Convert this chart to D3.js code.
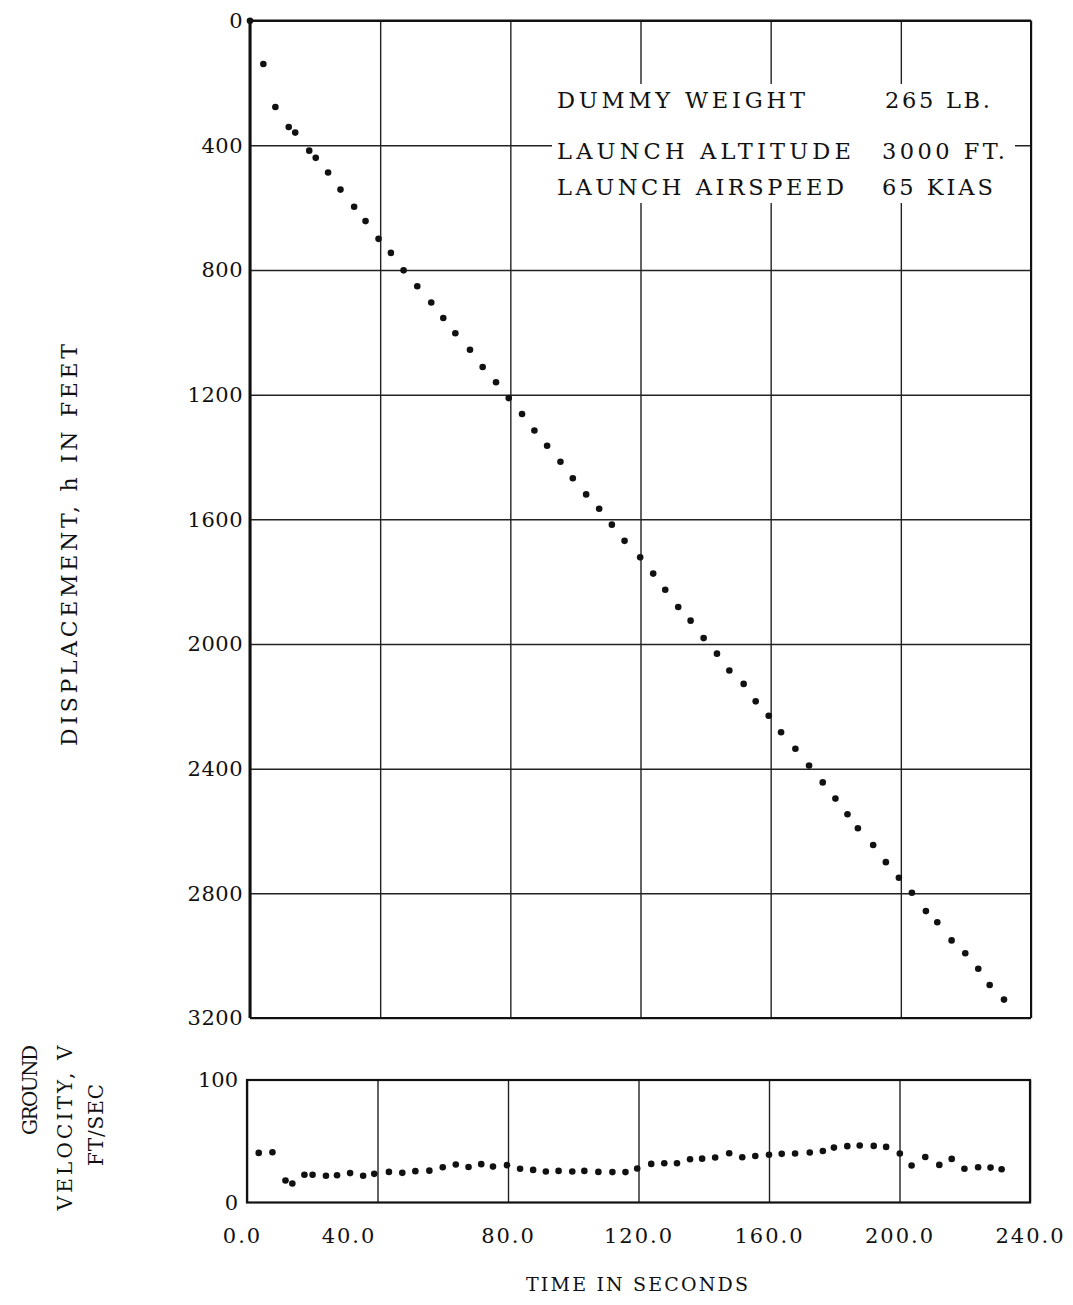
<!DOCTYPE html>
<html>
<head>
<meta charset="utf-8">
<script src="https://cdn.jsdelivr.net/npm/d3@7"></script>
<style>
  html, body { margin: 0; padding: 0; background: #fff; }
  svg { display: block; }
  text { font-family: "DejaVu Serif", "Liberation Serif", serif; fill: #111; }
</style>
</head>
<body>
<script>
// ---- data ----
const timeH = [0, 4.1, 7.8, 11.9, 13.9, 18.2, 20.2, 24.0, 27.8, 32.0, 35.5, 39.5, 43.3, 47.2, 51.4,
  55.7, 59.4, 63.1, 67.6, 71.5, 75.6, 79.5, 83.6, 87.4, 91.3, 95.4, 99.2, 103.3, 107.3, 111.2,
  115.1, 119.9, 123.9, 127.6, 131.6, 135.4, 139.4, 143.5, 147.3, 151.7, 155.4, 159.4, 163.2, 167.6,
  171.8, 176.0, 179.9, 183.6, 186.8, 191.5, 195.4, 199.4, 203.4, 207.7, 211.2, 215.6, 219.8, 223.8,
  227.3, 231.7];
const hValues = [0, 139, 277, 341, 359, 417, 440, 487, 542, 597, 643, 700, 745, 801, 852,
  904, 954, 1003, 1056, 1111, 1160, 1211, 1262, 1315, 1364, 1415, 1468, 1520, 1566, 1617,
  1669, 1722, 1774, 1826, 1881, 1925, 1981, 2031, 2085, 2128, 2184, 2230, 2283, 2336,
  2390, 2444, 2496, 2546, 2591, 2645, 2700, 2750, 2798, 2857, 2893, 2951, 2992, 3042,
  3094, 3141];
const timeV = [3.6, 7.8, 11.8, 13.9, 17.6, 20.1, 24.2, 27.6, 31.6, 35.6, 39.0, 43.5, 47.6, 51.6,
  55.9, 60.0, 64.0, 67.9, 71.8, 75.4, 79.7, 83.7, 87.7, 91.6, 95.5, 99.7, 103.4, 107.7, 112.0,
  116.0, 119.6, 123.9, 127.9, 131.8, 135.8, 139.5, 143.5, 147.8, 151.8, 155.8, 160.0, 163.9,
  168.0, 172.5, 176.5, 179.9, 184.0, 187.8, 192.1, 195.9, 200.1, 203.7, 207.9, 212.2, 216.0,
  219.9, 224.1, 227.9, 231.3];
const vValues = [40.5, 41, 18, 15.5, 22.6, 22.6, 21.8, 22.3, 24, 21.8, 23.4, 25, 24.2, 25.6,
  26, 28.8, 31, 29, 31.3, 29.3, 30.5, 27.5, 26.6, 25.3, 25.8, 25.3, 25.8, 25, 24.8,
  24.8, 27.7, 31.5, 32, 32, 35.3, 35.8, 36.7, 40.2, 37, 38, 39, 39.7,
  40, 40.8, 42.1, 44.8, 46, 46.5, 46.2, 45.4, 40, 30.2, 37.2, 30.7, 35.6,
  27.5, 28.8, 28.5, 27.2];
const timeTicks = [0, 40, 80, 120, 160, 200, 240];
const hTicks = [0, 400, 800, 1200, 1600, 2000, 2400, 2800, 3200];
const vTicks = [0, 100];
const noteLabels = ["DUMMY WEIGHT", "LAUNCH ALTITUDE", "LAUNCH AIRSPEED"];
const noteValues = ["265 LB.", "3000 FT.", "65 KIAS"];

// ---- layout ----
const W = 1073, H = 1305;
const svg = d3.select("body").append("svg").attr("width", W).attr("height", H);

const x = d3.scaleLinear().domain([0, 240]).range([250, 1031]);
const y = d3.scaleLinear().domain([0, 3200]).range([20.7, 1018]);
const xb = d3.scaleLinear().domain([0, 240]).range([247, 1030]);
const yb = d3.scaleLinear().domain([0, 100]).range([1202.5, 1080]);

const gridColor = "#222";
const FONT = "DejaVu Serif";

// ---- top panel grid ----
const topG = svg.append("g");
topG.append("g")
  .attr("transform", `translate(0,${y(0)})`)
  .call(d3.axisTop(x).tickValues(timeTicks).tickSize(-(y(3200) - y(0))).tickFormat(""))
  .call(g => g.select(".domain").remove())
  .call(g => g.selectAll("line").attr("stroke", gridColor).attr("stroke-width", 1.4));
topG.append("g")
  .attr("transform", `translate(${x(0)},0)`)
  .call(d3.axisLeft(y).tickValues(hTicks).tickSize(-(x(240) - x(0))).tickPadding(7).tickFormat(d3.format("d")))
  .call(g => g.select(".domain").remove())
  .call(g => g.selectAll("line").attr("stroke", gridColor).attr("stroke-width", 1.5))
  .call(g => g.selectAll("text").attr("font-size", 21).attr("font-family", FONT).attr("fill", "#111")
    .attr("letter-spacing", 0.5));
// frame
topG.append("line").attr("x1", x(0)).attr("x2", x(0)).attr("y1", y(0) - 1).attr("y2", y(3200))
  .attr("stroke", "#111").attr("stroke-width", 3);
topG.append("line").attr("x1", x(0)).attr("x2", x(240)).attr("y1", y(0)).attr("y2", y(0))
  .attr("stroke", "#111").attr("stroke-width", 2.2);
topG.append("line").attr("x1", x(0)).attr("x2", x(240)).attr("y1", y(3200)).attr("y2", y(3200))
  .attr("stroke", "#111").attr("stroke-width", 2);
topG.append("line").attr("x1", x(240)).attr("x2", x(240)).attr("y1", y(0)).attr("y2", y(3200))
  .attr("stroke", "#111").attr("stroke-width", 2);

// annotation box (white background hides grid)
const note = topG.append("g");
note.append("rect").attr("x", 552).attr("y", 84).attr("width", 463).attr("height", 119).attr("fill", "#fff");
const noteBase = [108, 159, 195];
const labelLens = [248, 294, 287];
const valueLens = [105, 123, 111];
noteLabels.forEach((t, i) => {
  note.append("text").attr("x", 557).attr("y", noteBase[i]).attr("font-size", 22.5)
    .attr("textLength", labelLens[i]).attr("lengthAdjust", "spacing").text(t);
  note.append("text").attr("x", i === 0 ? 885 : 882).attr("y", noteBase[i]).attr("font-size", 22.5)
    .attr("textLength", valueLens[i]).attr("lengthAdjust", "spacing").text(noteValues[i]);
});

// points
topG.append("g").selectAll("circle").data(timeH).join("circle")
  .attr("cx", (d) => x(d)).attr("cy", (d, i) => y(hValues[i])).attr("r", 3.3).attr("fill", "#111");

// y label
svg.append("text").attr("transform", `translate(77,545) rotate(-90)`)
  .attr("text-anchor", "middle").attr("font-size", 22)
  .attr("textLength", 402).attr("lengthAdjust", "spacing")
  .text("DISPLACEMENT, h IN FEET");

// ---- bottom panel ----
const botG = svg.append("g");
botG.append("g")
  .attr("transform", `translate(0,${yb(100)})`)
  .call(d3.axisTop(xb).tickValues(timeTicks).tickSize(-(yb(0) - yb(100))).tickFormat(""))
  .call(g => g.select(".domain").remove())
  .call(g => g.selectAll("line").attr("stroke", gridColor).attr("stroke-width", 1.4));
botG.append("g")
  .attr("transform", `translate(${xb(0)},0)`)
  .call(d3.axisLeft(yb).tickValues(vTicks).tickSize(0).tickPadding(9).tickFormat(d3.format("d")))
  .call(g => g.select(".domain").remove())
  .call(g => g.selectAll("text").attr("font-size", 21).attr("font-family", FONT).attr("fill", "#111"));
botG.append("rect").attr("x", xb(0)).attr("y", yb(100)).attr("width", xb(240) - xb(0)).attr("height", yb(0) - yb(100))
  .attr("fill", "none").attr("stroke", "#111").attr("stroke-width", 2.2);
botG.append("g")
  .attr("transform", `translate(0,${yb(0)})`)
  .call(d3.axisBottom(xb).tickValues(timeTicks).tickSize(0).tickPadding(26).tickFormat(d3.format(".1f")))
  .call(g => g.select(".domain").remove())
  .call(g => g.selectAll("text").attr("font-size", 21).attr("font-family", FONT)
    .attr("fill", "#111").attr("letter-spacing", 2)
    .attr("dx", d => d === 40 ? -29 : (d === 0 ? -5 : 0)));

botG.append("g").selectAll("circle").data(timeV).join("circle")
  .attr("cx", (d) => xb(d)).attr("cy", (d, i) => yb(vValues[i])).attr("r", 3.3).attr("fill", "#111");

svg.append("text").attr("x", 637).attr("y", 1291).attr("text-anchor", "middle").attr("font-size", 19)
  .attr("textLength", 222).attr("lengthAdjust", "spacing").text("TIME IN SECONDS");

const vLabel = [
  { t: "GROUND", x: 37, cy: 1090, len: 90 },
  { t: "VELOCITY, V", x: 72, cy: 1128, len: 165 },
  { t: "FT/SEC", x: 103, cy: 1125, len: 82 }
];
vLabel.forEach(d => {
  svg.append("text").attr("transform", `translate(${d.x},${d.cy}) rotate(-90)`)
    .attr("text-anchor", "middle").attr("font-size", 20)
    .attr("textLength", d.len).attr("lengthAdjust", "spacing").text(d.t);
});
</script>
</body>
</html>
